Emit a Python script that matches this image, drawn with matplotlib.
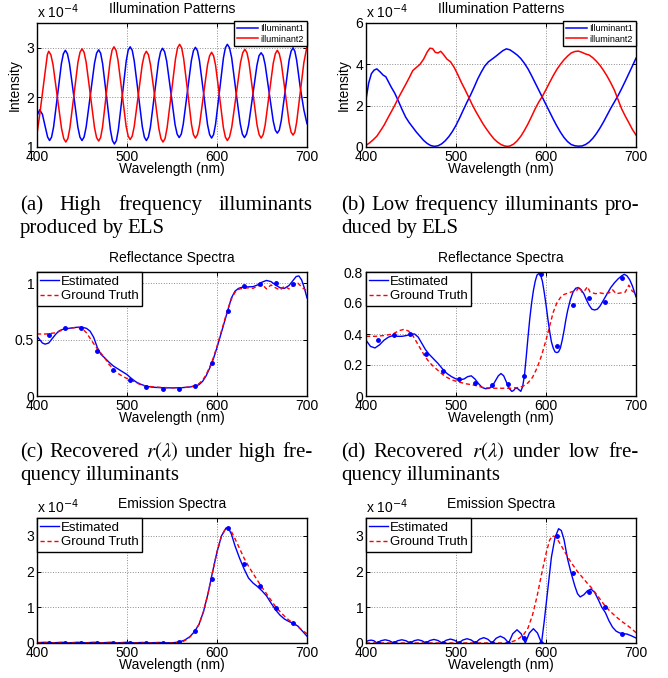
import matplotlib.pyplot as plt

plt.rcParams['font.family'] = ['Liberation Sans', 'DejaVu Sans']

# ---------------- data (intensities / emissions in units of 1e-4) ----------------
wl_ticks = [400, 500, 600, 700]
wl_tick_labels = ['400', '500', '600', '700']

# (a) high frequency illuminants
hi_illum1_wl = [400, 403, 406, 409, 411.8, 414, 416.2, 418.4, 422.8, 427.1, 429.3, 431.5, 433.8,
                436.1, 440.8, 445.4, 447.7, 450, 452.3, 454.6, 459.3, 463.9, 466.2, 468.5, 470.7,
                472.9, 477.3, 481.6, 483.8, 486, 488.2, 490.4, 494.8, 499.1, 501.3, 503.5, 505.8,
                508, 512.5, 517, 519.3, 521.5, 523.8, 526, 530.5, 535, 537.3, 539.5, 541.8,
                544.1, 548.8, 553.4, 555.7, 558, 560.3, 562.5, 567, 571.5, 573.8, 576, 578.3,
                580.5, 585, 589.5, 591.8, 594, 596.2, 598.4, 602.8, 607.1, 609.3, 611.5, 613.9,
                616.3, 621, 625.8, 628.2, 630.5, 632.8, 635.1, 639.8, 644.4, 646.7, 649, 651.3,
                653.5, 658, 662.5, 664.8, 667, 669.2, 671.4, 675.8, 680.1, 682.3, 684.5, 686.5,
                688.5, 692.5, 696.5, 700]
hi_illum1 = [1.63, 1.75, 1.66, 1.42, 1.20, 1.13, 1.20, 1.40, 2.04, 2.68, 2.88, 2.95, 2.88,
             2.68, 2.04, 1.40, 1.20, 1.13, 1.20, 1.40, 2.05, 2.69, 2.89, 2.96, 2.89,
             2.68, 2.01, 1.34, 1.13, 1.06, 1.13, 1.35, 2.04, 2.73, 2.95, 3.02, 2.95,
             2.74, 2.08, 1.41, 1.20, 1.13, 1.20, 1.40, 2.06, 2.72, 2.92, 2.99, 2.92,
             2.73, 2.09, 1.45, 1.26, 1.19, 1.26, 1.46, 2.10, 2.74, 2.94, 3.01, 2.94,
             2.74, 2.10, 1.45, 1.25, 1.18, 1.25, 1.46, 2.13, 2.79, 3.00, 3.07, 3.00,
             2.80, 2.13, 1.47, 1.26, 1.19, 1.26, 1.44, 2.05, 2.65, 2.84, 2.90, 2.84,
             2.66, 2.09, 1.52, 1.34, 1.28, 1.34, 1.53, 2.14, 2.75, 2.93, 3.00, 2.93,
             2.75, 2.20, 1.75, 1.47]
hi_illum2_wl = [400, 403, 406.5, 410, 411.5, 413, 415.4, 417.8, 422.5, 427.3, 429.7, 432, 434.3,
                436.5, 441, 445.5, 447.8, 450, 452.3, 454.6, 459.3, 463.9, 466.2, 468.5, 470.7,
                472.8, 477, 481.3, 483.4, 485.5, 487.8, 490, 494.5, 499, 501.3, 503.5, 505.8,
                508, 512.5, 517, 519.3, 521.5, 523.8, 526.1, 530.8, 535.4, 537.7, 540, 542.3,
                544.6, 549.3, 553.9, 556.2, 558.5, 560.7, 562.9, 567.3, 571.6, 573.8, 576, 578.3,
                580.5, 585, 589.5, 591.8, 594, 596.2, 598.4, 602.8, 607.1, 609.3, 611.5, 613.9,
                616.4, 621.3, 626.1, 628.6, 631, 633.3, 635.5, 640, 644.5, 646.8, 649, 651.3,
                653.5, 658, 662.5, 664.8, 667, 669.2, 671.4, 675.8, 680.1, 682.3, 684.5, 686.5,
                688.5, 692.5, 696.5, 700]
hi_illum2 = [1.27, 1.65, 2.15, 2.65, 2.86, 2.93, 2.86, 2.66, 2.02, 1.37, 1.17, 1.10, 1.17,
             1.38, 2.04, 2.71, 2.91, 2.98, 2.91, 2.71, 2.05, 1.39, 1.19, 1.12, 1.19,
             1.40, 2.07, 2.74, 2.95, 3.02, 2.95, 2.75, 2.09, 1.42, 1.22, 1.15, 1.22,
             1.41, 2.04, 2.67, 2.86, 2.93, 2.86, 2.66, 2.02, 1.37, 1.17, 1.10, 1.17,
             1.39, 2.09, 2.78, 3.00, 3.07, 3.00, 2.79, 2.13, 1.46, 1.25, 1.18, 1.25,
             1.43, 2.05, 2.66, 2.84, 2.91, 2.84, 2.65, 2.02, 1.39, 1.20, 1.13, 1.20,
             1.40, 2.05, 2.70, 2.90, 2.97, 2.90, 2.71, 2.08, 1.44, 1.25, 1.18, 1.25,
             1.44, 2.07, 2.69, 2.88, 2.95, 2.88, 2.70, 2.10, 1.49, 1.30, 1.24, 1.30,
             1.50, 2.10, 2.70, 3.03]

# (b) low frequency illuminants
lo_illum1_wl = [400, 403, 406, 409, 412, 416, 419, 422, 425, 428] + list(range(432, 701, 4))
lo_illum1 = [2.30, 3.10, 3.55, 3.72, 3.78, 3.62, 3.48, 3.40, 3.15, 2.90,
             2.60, 2.22, 1.82, 1.45, 1.18, 0.95, 0.72, 0.52, 0.32, 0.17, 0.07, 0.03,
             0.06, 0.15, 0.30, 0.50, 0.75, 1.05, 1.40, 1.78, 2.15, 2.50, 2.88, 3.28, 3.62,
             3.92, 4.12, 4.25, 4.38, 4.52, 4.66, 4.75, 4.70,
             4.58, 4.45, 4.28, 4.05, 3.78, 3.45, 3.10, 2.75, 2.40, 2.05, 1.70, 1.35, 1.02,
             0.72, 0.46, 0.26, 0.12, 0.06, 0.04,
             0.05, 0.12, 0.24, 0.42, 0.65, 0.92, 1.22, 1.55, 1.88, 2.18, 2.48, 2.82, 3.18,
             3.55, 3.92, 4.30]
lo_illum2_wl = (list(range(400, 469, 4)) + [471, 474, 477, 480, 483, 486]
                + list(range(490, 555, 4)) + [557] + list(range(560, 701, 4)))
lo_illum2 = [0.08, 0.20, 0.35, 0.52, 0.78, 1.05, 1.38, 1.70, 2.02, 2.38, 2.70, 3.02, 3.35, 3.70,
             3.85, 4.00, 4.25, 4.60,
             4.78, 4.76, 4.58, 4.55, 4.63, 4.48,
             4.25, 4.12, 3.85, 3.50, 3.12, 2.78, 2.42, 2.05, 1.72, 1.42, 1.12, 0.86, 0.62, 0.40,
             0.24, 0.12, 0.05,
             0.03,
             0.05, 0.14, 0.30, 0.52, 0.80, 1.12, 1.48, 1.85, 2.18, 2.45, 2.78, 3.12, 3.45, 3.75,
             4.00, 4.22, 4.40, 4.55, 4.62, 4.64, 4.58, 4.50, 4.45, 4.32, 4.15, 3.95, 3.70, 3.42,
             3.10, 2.75, 2.30, 1.85, 1.50, 1.18, 0.85, 0.58]

# sample positions of the estimated spectra (dots)
sample_wl = [413, 431, 449, 467, 485, 503, 521, 540, 558, 576, 594, 612, 630, 648, 666, 684]

# (c) reflectance, high frequency illuminants
refl_hi_est_wl = [400, 403, 406, 409, 413, 417, 421, 425, 430, 435, 440, 445, 450, 455, 459, 463,
                  467, 471, 475, 480, 485, 490, 495, 500, 505, 510, 515, 520, 525, 530, 540, 550,
                  560, 570, 576, 580, 584, 588, 592, 596, 600, 604, 608, 612, 616, 620, 624, 628,
                  634, 640, 645, 650, 655, 660, 665, 670, 675, 680, 684, 688, 691, 694, 697, 700]
refl_hi_est = [0.53, 0.50, 0.47, 0.46, 0.47, 0.51, 0.55, 0.58, 0.595, 0.60, 0.605, 0.61, 0.61,
               0.60, 0.575, 0.52, 0.43, 0.37, 0.34, 0.30, 0.265, 0.24, 0.215, 0.19, 0.155, 0.125,
               0.105, 0.09, 0.082, 0.077, 0.073, 0.072, 0.073, 0.08, 0.09, 0.10, 0.13, 0.18, 0.25,
               0.33, 0.43, 0.54, 0.65, 0.76, 0.87, 0.93, 0.955, 0.965, 0.968, 0.97, 0.985, 1.01,
               1.025, 1.015, 0.985, 0.96, 0.955, 0.98, 1.02, 1.06, 1.065, 1.03, 0.96, 0.87]
refl_hi_gt_wl = [400, 410, 420, 430, 440, 445, 450, 455, 460, 465, 470, 475, 480, 485, 490, 495,
                 500, 505, 510, 515, 520, 525, 530, 540, 550, 560, 570, 575, 580, 584, 588, 592,
                 596, 600, 604, 608, 612, 616, 620, 625, 630, 635, 640, 645, 650, 655, 660, 665,
                 670, 675, 680, 685, 690, 695, 700]
refl_hi_gt = [0.55, 0.55, 0.56, 0.59, 0.605, 0.61, 0.60, 0.56, 0.50, 0.44, 0.39, 0.34, 0.28, 0.24,
              0.20, 0.175, 0.155, 0.14, 0.12, 0.10, 0.09, 0.085, 0.08, 0.075, 0.073, 0.073, 0.08,
              0.09, 0.11, 0.14, 0.19, 0.26, 0.34, 0.44, 0.55, 0.66, 0.77, 0.86, 0.92, 0.95, 0.955,
              0.96, 0.955, 0.975, 0.99, 0.95, 0.985, 0.96, 0.94, 0.975, 0.95, 0.985, 1.0, 0.96,
              0.93]
refl_hi_samples = [0.54, 0.60, 0.60, 0.40, 0.23, 0.14, 0.08, 0.065, 0.065, 0.09, 0.29, 0.75, 0.98,
                   0.99, 1.00, 0.99]

# (d) reflectance, low frequency illuminants
refl_lo_est_wl = [400, 405, 410, 415, 420, 425, 430, 435, 440, 445, 450, 454, 458, 462, 466, 470,
                  475, 480, 485, 490, 495, 500, 505, 509, 513, 517, 521, 525, 529, 533, 537, 541,
                  544, 547, 550, 553, 556, 559, 562, 564, 566, 568, 570, 572, 574, 576, 578, 580,
                  582, 584, 586, 588, 590, 592, 594, 596, 598, 600, 602, 604, 606, 608, 610, 612,
                  614, 616, 618, 620, 622, 624, 627, 630, 633, 636, 639, 642, 645, 648, 651, 654,
                  657, 660, 664, 668, 672, 676, 680, 684, 687, 690, 693, 696, 700]
refl_lo_est = [0.36, 0.32, 0.31, 0.33, 0.36, 0.38, 0.39, 0.385, 0.385, 0.39, 0.40, 0.40, 0.38,
               0.34, 0.30, 0.27, 0.24, 0.21, 0.175, 0.145, 0.125, 0.11, 0.105, 0.11, 0.125, 0.13,
               0.11, 0.08, 0.055, 0.047, 0.05, 0.07, 0.10, 0.13, 0.145, 0.13, 0.09, 0.05, 0.03,
               0.035, 0.05, 0.05, 0.04, 0.03, 0.06, 0.13, 0.25, 0.38, 0.50, 0.60, 0.68, 0.74,
               0.78, 0.79, 0.78, 0.74, 0.67, 0.59, 0.50, 0.42, 0.35, 0.31, 0.285, 0.28, 0.285,
               0.31, 0.36, 0.42, 0.49, 0.55, 0.62, 0.67, 0.695, 0.70, 0.685, 0.66, 0.62, 0.585,
               0.56, 0.555, 0.56, 0.58, 0.62, 0.66, 0.70, 0.73, 0.755, 0.775, 0.785, 0.775, 0.75,
               0.71, 0.64]
refl_lo_gt_wl = [400, 410, 420, 430, 436, 442, 447, 452, 456, 460, 465, 470, 475, 480, 485, 490,
                 495, 500, 510, 520, 530, 540, 550, 560, 570, 575, 580, 585, 590, 595, 600, 604,
                 608, 612, 616, 620, 625, 630, 634, 637, 640, 643, 646, 649, 655, 660, 665, 670,
                 674, 678, 683, 688, 692, 696, 700]
refl_lo_gt = [0.385, 0.385, 0.39, 0.40, 0.42, 0.43, 0.42, 0.39, 0.35, 0.31, 0.26, 0.22, 0.19,
              0.165, 0.14, 0.12, 0.105, 0.095, 0.08, 0.07, 0.055, 0.05, 0.05, 0.05, 0.055, 0.065,
              0.085, 0.12, 0.18, 0.26, 0.36, 0.45, 0.54, 0.60, 0.635, 0.655, 0.665, 0.675, 0.68,
              0.705, 0.67, 0.68, 0.705, 0.67, 0.66, 0.665, 0.66, 0.665, 0.685, 0.66, 0.665, 0.67,
              0.715, 0.675, 0.665]
refl_lo_samples = [0.36, 0.395, 0.40, 0.27, 0.16, 0.11, 0.085, 0.07, 0.075, 0.13, 0.79, 0.32,
                   0.59, 0.63, 0.605, 0.76]

# (e) emission, high frequency illuminants
em_hi_est_wl = [400, 409, 418, 427, 436, 445, 454, 463, 472, 481, 490, 499, 508, 517, 526, 535,
                544, 552, 558, 564, 570, 575, 580, 585, 590, 595, 600, 605, 610, 613, 616, 620,
                625, 630, 635, 640, 645, 650, 655, 660, 665, 670, 675, 680, 685, 690, 695, 700]
em_hi_est = [0.01, 0.02, 0.005, 0.02, 0.005, 0.02, 0.005, 0.02, 0.005, 0.02, 0.005, 0.02, 0.005,
             0.015, 0.005, 0.015, 0.005, 0.01, 0.03, 0.08, 0.18, 0.32, 0.52, 0.88, 1.38, 1.98,
             2.55, 3.00, 3.22, 3.20, 3.05, 2.72, 2.38, 2.08, 1.82, 1.68, 1.58, 1.46, 1.32, 1.12,
             0.93, 0.78, 0.67, 0.60, 0.55, 0.47, 0.33, 0.19]
em_hi_gt_wl = [400, 550, 556, 562, 568, 574, 580, 585, 590, 595, 600, 605, 610, 613, 616, 620,
               625, 630, 635, 640, 645, 650, 655, 660, 665, 670, 675, 680, 685, 690, 695, 700]
em_hi_gt = [0, 0, 0.01, 0.04, 0.12, 0.28, 0.52, 0.88, 1.38, 1.98, 2.55, 3.00, 3.22, 3.22, 3.12,
            2.92, 2.65, 2.38, 2.15, 1.95, 1.75, 1.56, 1.38, 1.20, 1.02, 0.88, 0.75, 0.64, 0.55,
            0.45, 0.35, 0.26]
em_hi_samples = [0, 0, 0, 0, 0, 0, 0, 0, 0.02, 0.33, 1.78, 3.22, 2.20, 1.59, 0.98, 0.56]

# (f) emission, low frequency illuminants
em_lo_est_wl = [400, 403, 406, 409, 412, 416.6, 421.3, 425.9, 430.5, 435.1, 439.8, 444.4, 449,
                453.4, 457.8, 462.1, 466.5, 471, 475.5, 480, 484.5, 489.1, 493.8, 498.4, 503,
                507.6, 512.3, 516.9, 521.5, 526.1, 530.8, 535.4, 540, 544.6, 549.3, 553.9, 558.5,
                563.1, 567.8, 572.4, 577, 581.5, 586, 590.5, 595, 598, 602, 606, 610, 614, 617,
                620, 624, 628, 632, 635, 638, 642, 646, 650, 654, 658, 662, 666, 670, 674, 678,
                682, 686, 690, 695, 700]
em_lo_est = [0.04, 0.07, 0.08, 0.06, 0.0, 0.063, 0.09, 0.063, 0.0, 0.063, 0.09, 0.063, 0.0,
             0.063, 0.09, 0.063, 0.0, 0.07, 0.10, 0.07, 0.0, 0.077, 0.11, 0.077, 0.0, 0.084,
             0.12, 0.084, 0.0, 0.105, 0.15, 0.105, 0.0, 0.133, 0.19, 0.133, 0.0, 0.26, 0.37,
             0.26, 0.0, 0.28, 0.40, 0.28, 0.0, 0.60, 1.50, 2.40, 2.95, 3.20, 3.15, 2.90, 2.35,
             1.95, 1.60, 1.38, 1.29, 1.35, 1.46, 1.51, 1.42, 1.22, 1.00, 0.85, 0.62, 0.44, 0.33,
             0.28, 0.26, 0.25, 0.20, 0.14]
em_lo_gt_wl = [400, 555, 560, 565, 570, 575, 580, 585, 590, 595, 600, 604, 607, 610, 614, 618,
               622, 626, 630, 635, 640, 645, 650, 655, 660, 665, 670, 675, 680, 685, 690, 695, 700]
em_lo_gt = [0, 0, 0.02, 0.06, 0.13, 0.23, 0.42, 0.78, 1.30, 1.92, 2.50, 2.88, 3.00, 2.98, 2.85,
            2.68, 2.50, 2.33, 2.18, 2.00, 1.85, 1.70, 1.56, 1.40, 1.23, 1.06, 0.92, 0.80, 0.69,
            0.59, 0.50, 0.40, 0.29]
em_lo_samples = [0, 0, 0, 0, 0, 0, 0, 0, 0, 0.15, 0.0, 3.01, 1.96, 1.42, 1.01, 0.26]

# ---------------- figure ----------------
W, H = 668, 678
fig = plt.figure(figsize=(W / 100, H / 100), dpi=100)
renderer = fig.canvas.get_renderer()

DASH = (0, (3, 2))


def make_axes(left, top, width, height):
    return fig.add_axes([left / W, 1 - (top + height) / H, width / W, height / H])


def style(ax, title, ylim, yticks, ylabels, ylabel=None, sci=False):
    ax.set_xlim(400, 700)
    ax.set_ylim(*ylim)
    ax.set_xticks(wl_ticks)
    ax.set_xticklabels(wl_tick_labels)
    ax.set_yticks(yticks)
    ax.set_yticklabels(ylabels)
    ax.tick_params(direction='in', length=3, width=0.7, top=True, right=True,
                   labelsize=10, pad=2)
    ax.grid(True, linestyle=':', color='0.55', linewidth=0.7)
    ax.set_axisbelow(True)
    for s in ax.spines.values():
        s.set_linewidth(1.0)
    ax.set_title(title, fontsize=10, pad=7.5)
    ax.set_xlabel('Wavelength (nm)', fontsize=10, labelpad=-1)
    if ylabel:
        ax.set_ylabel(ylabel, fontsize=10, labelpad=3)
    if sci:
        ax.text(0, 1.015, r'x 10$^{-4}$', transform=ax.transAxes, fontsize=10,
                va='bottom', ha='left', math_fontfamily='dejavusans')


def small_legend(ax):
    leg = ax.legend(loc='upper right', bbox_to_anchor=(1.0, 1.015), fontsize=6.5,
                    borderaxespad=0, fancybox=False, framealpha=1, edgecolor='black',
                    handlelength=2.3, handletextpad=0.3, labelspacing=0.2, borderpad=0.3)
    leg.get_frame().set_linewidth(1.0)


def big_legend(ax):
    leg = ax.legend(loc='upper left', fontsize=9.5, borderaxespad=0, fancybox=False,
                    framealpha=1, edgecolor='black', handlelength=1.4, handletextpad=0.15,
                    labelspacing=0.2, borderpad=0.25)
    leg.get_frame().set_linewidth(1.0)


# (a)
ax = make_axes(37, 23, 270, 124)
ax.plot(hi_illum1_wl, hi_illum1, color='b', lw=1.1, label='Illuminant1')
ax.plot(hi_illum2_wl, hi_illum2, color='r', lw=1.1, label='illuminant2')
style(ax, 'Illumination Patterns', (1, 3.5), [1, 2, 3], ['1', '2', '3'], 'Intensity', sci=True)
small_legend(ax)

# (b)
ax = make_axes(366, 23, 270, 124)
ax.plot(lo_illum1_wl, lo_illum1, color='b', lw=1.1, label='Illuminant1')
ax.plot(lo_illum2_wl, lo_illum2, color='r', lw=1.1, label='illuminant2')
style(ax, 'Illumination Patterns', (0, 6), [0, 2, 4, 6], ['0', '2', '4', '6'], 'Intensity',
      sci=True)
small_legend(ax)

# (c)
ax = make_axes(37, 272, 270, 124)
ax.plot(refl_hi_est_wl, refl_hi_est, color='b', lw=1.0, label='Estimated')
ax.plot(refl_hi_gt_wl, refl_hi_gt, color='r', lw=1.0, ls=DASH, label='Ground Truth')
ax.plot(sample_wl, refl_hi_samples, 'b.', ms=5)
style(ax, 'Reflectance Spectra', (0, 1.1), [0, 0.5, 1], ['0', '0.5', '1'])
big_legend(ax)

# (d)
ax = make_axes(366, 272, 270, 124)
ax.plot(refl_lo_est_wl, refl_lo_est, color='b', lw=1.0, label='Estimated')
ax.plot(refl_lo_gt_wl, refl_lo_gt, color='r', lw=1.0, ls=DASH, label='Ground Truth')
ax.plot(sample_wl, refl_lo_samples, 'b.', ms=5)
style(ax, 'Reflectance Spectra', (0, 0.8), [0, 0.2, 0.4, 0.6, 0.8],
      ['0', '0.2', '0.4', '0.6', '0.8'])
big_legend(ax)

# (e)
ax = make_axes(37, 518, 270, 125)
ax.plot(em_hi_est_wl, em_hi_est, color='b', lw=1.0, label='Estimated')
ax.plot(em_hi_gt_wl, em_hi_gt, color='r', lw=1.0, ls=DASH, label='Ground Truth')
ax.plot(sample_wl, em_hi_samples, 'b.', ms=5)
style(ax, 'Emission Spectra', (0, 3.5), [0, 1, 2, 3], ['0', '1', '2', '3'], sci=True)
big_legend(ax)

# (f)
ax = make_axes(366, 518, 270, 125)
ax.plot(em_lo_est_wl, em_lo_est, color='b', lw=1.0, label='Estimated')
ax.plot(em_lo_gt_wl, em_lo_gt, color='r', lw=1.0, ls=DASH, label='Ground Truth')
ax.plot(sample_wl, em_lo_samples, 'b.', ms=5)
style(ax, 'Emission Spectra', (0, 3.5), [0, 1, 2, 3], ['0', '1', '2', '3'], sci=True)
big_legend(ax)


# ---------------- captions (justified serif text) ----------------
def caption_line(words, x0, x1, y, justify=True):
    texts = [fig.text(0, 1 - y / H, w, fontsize=15, family=['Liberation Serif'],
                      math_fontfamily='stix', va='baseline', ha='left') for w in words]
    widths = [t.get_window_extent(renderer).width for t in texts]
    if justify and len(words) > 1:
        gap = (x1 - x0 - sum(widths)) / (len(words) - 1)
    else:
        gap = 4.5
    x = x0
    for t, w in zip(texts, widths):
        t.set_x(x / W)
        x += w + gap


caption_line(['(a)', 'High', 'frequency', 'illuminants'], 20, 313, 210)
caption_line(['produced', 'by', 'ELS'], 20, 313, 233, justify=False)
caption_line(['(b)', 'Low', 'frequency', 'illuminants', 'pro-'], 341, 639, 210)
caption_line(['duced', 'by', 'ELS'], 341, 639, 233, justify=False)
caption_line(['(c)', 'Recovered', r'$r(\lambda)$', 'under', 'high', 'fre-'], 20, 313, 457)
caption_line(['quency', 'illuminants'], 20, 313, 480, justify=False)
caption_line(['(d)', 'Recovered', r'$r(\lambda)$', 'under', 'low', 'fre-'], 341, 639, 457)
caption_line(['quency', 'illuminants'], 341, 639, 480, justify=False)

fig.savefig('out.png', dpi=100)
